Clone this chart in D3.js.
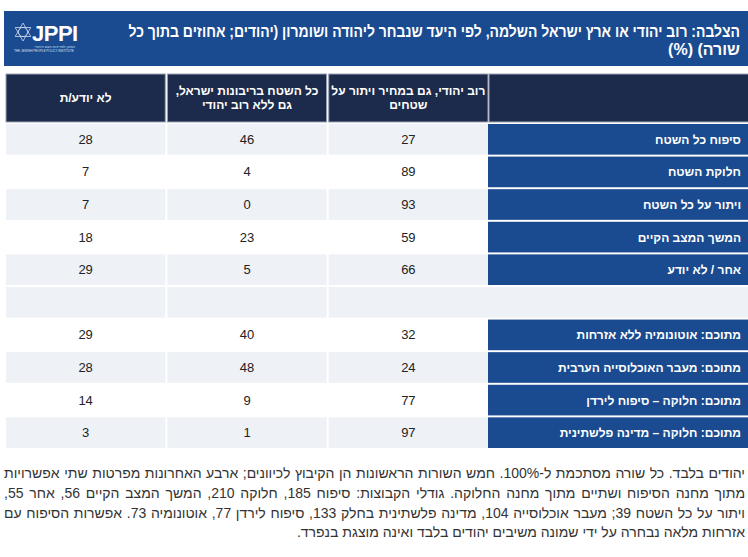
<!DOCTYPE html>
<html lang="he">
<head>
<meta charset="utf-8">
<script src="https://cdn.jsdelivr.net/npm/d3@7"></script>
<style>
  body { margin: 0; background: #fff; }
  text { font-family: "Liberation Sans", "DejaVu Sans", sans-serif; }
</style>
</head>
<body>
<div id="chart"></div>
<script>
// values
const title = ["הצלבה: רוב יהודי או ארץ ישראל השלמה, לפי היעד שנבחר ליהודה ושומרון (יהודים; אחוזים בתוך כל", "שורה) (%)"];
// columns run right to left, next to the row labels first
const columns = ["majority", "whole", "unknown"];
const columnHeads = [
  ["רוב יהודי, גם במחיר ויתור על", "שטחים"],
  ["כל השטח בריבונות ישראל,", "גם ללא רוב יהודי"],
  ["לא יודע/ת"]
];
const rowLabels = ["סיפוח כל השטח", "חלוקת השטח", "ויתור על כל השטח", "המשך המצב הקיים", "אחר / לא יודע", "",
  "מתוכם: אוטונומיה ללא אזרחות", "מתוכם: מעבר האוכלוסייה הערבית", "מתוכם: חלוקה – סיפוח לירדן", "מתוכם: חלוקה – מדינה פלשתינית"];
const majority = [27, 89, 93, 59, 66, null, 32, 24, 77, 97];
const whole    = [46, 4, 0, 23, 5, null, 40, 48, 9, 1];
const unknown  = [28, 7, 7, 18, 29, null, 29, 28, 14, 3];
const notes = [
  "יהודים בלבד. כל שורה מסתכמת ל-100%. חמש השורות הראשונות הן הקיבוץ לכיוונים; ארבע האחרונות מפרטות שתי אפשרויות",
  "מתוך מחנה הסיפוח ושתיים מתוך מחנה החלוקה. גודלי הקבוצות: סיפוח 185, חלוקה 210, המשך המצב הקיים 56, אחר 55,",
  "ויתור על כל השטח 39; מעבר אוכלוסייה 104, מדינה פלשתינית בחלק 133, סיפוח לירדן 77, אוטונומיה 73. אפשרות הסיפוח עם",
  "אזרחות מלאה נבחרה על ידי שמונה משיבים יהודים בלבד ואינה מוצגת בנפרד."
];

const W = 748, H = 557;
const blue = "#1a4a8f", navy = "#1c2a4b", grey = "#eef1f6";

const svg = d3.select("#chart").append("svg")
  .attr("width", W).attr("height", H);

// squeeze a line into maxW if it runs over (anchor on the right)
function fit(sel, maxW) {
  sel.each(function() {
    const w = this.getComputedTextLength();
    if (w > maxW) {
      const x = +this.getAttribute("x"), k = maxW / w;
      d3.select(this).attr("transform", `translate(${x * (1 - k)},0) scale(${k},1)`);
    }
  });
}

// banner
svg.append("rect").attr("x", 4).attr("y", 11).attr("width", W - 4).attr("height", 55).attr("fill", blue);

svg.selectAll(".title").data(title).join("text")
  .attr("class", "title")
  .attr("x", 740).attr("y", (d, i) => 37 + i * 17.5)
  .attr("direction", "rtl").attr("text-anchor", "start")
  .attr("fill", "#fff").attr("font-weight", "bold").attr("font-size", 16)
  .text(d => d)
  .call(fit, 612);

// logo
const logo = svg.append("g").attr("transform", "translate(23,32)");
const tri = r => d3.range(3).map(k => [r * Math.sin(k * 2 * Math.PI / 3), -r * Math.cos(k * 2 * Math.PI / 3)]);
logo.append("polygon").attr("points", tri(9).join(" "))
  .attr("fill", "none").attr("stroke", "#cfd8ea").attr("stroke-width", 0.8);
logo.append("polygon").attr("points", tri(9).map(p => [p[0], -p[1]]).join(" "))
  .attr("fill", "none").attr("stroke", "#cfd8ea").attr("stroke-width", 0.8);
logo.append("circle").attr("r", 4.5).attr("fill", "none").attr("stroke", "#cfd8ea").attr("stroke-width", 0.6);
svg.append("text").attr("x", 32).attr("y", 41)
  .attr("fill", "#fff").attr("font-weight", "bold").attr("font-size", 22).attr("letter-spacing", -0.5)
  .text("JPPI");
svg.append("text").attr("x", 75).attr("y", 48).attr("direction", "rtl").attr("text-anchor", "start")
  .attr("fill", "#d8e0ee").attr("font-size", 3.6).text("המכון למדיניות העם היהודי");
svg.append("text").attr("x", 14).attr("y", 52)
  .attr("fill", "#d8e0ee").attr("font-size", 3.2).text("THE JEWISH PEOPLE POLICY INSTITUTE")
  .attr("textLength", 60);

// table scales
const tableLeft = 6, labelLeft = 488;
const x = d3.scaleBand().domain(columns).range([labelLeft, tableLeft]).paddingInner(0.013);
const y = d3.scaleBand().domain(d3.range(rowLabels.length)).range([124, 448]).paddingInner(0.06);
const values = { majority, whole, unknown };
const shaded = i => (i < 5 ? i % 2 === 0 : i % 2 === 1);

// header row
const headTop = 74, headH = 48;
const heads = svg.append("g");
heads.selectAll("rect").data(columns).join("rect")
  .attr("x", d => x(d)).attr("y", headTop).attr("width", x.bandwidth()).attr("height", headH)
  .attr("fill", navy).attr("stroke", "#9aa3b5").attr("stroke-width", 1);
heads.append("rect").attr("x", labelLeft + 1).attr("y", headTop).attr("width", W - labelLeft + 4).attr("height", headH)
  .attr("fill", navy).attr("stroke", "#9aa3b5").attr("stroke-width", 1);
columns.forEach((c, j) => {
  const lines = columnHeads[j];
  heads.selectAll(null).data(lines).join("text")
    .attr("x", x(c) + x.bandwidth() / 2)
    .attr("y", (d, i) => headTop + headH / 2 + 4 + (i - (lines.length - 1) / 2) * 14)
    .attr("direction", "rtl").attr("text-anchor", "middle")
    .attr("fill", "#fff").attr("font-weight", "bold").attr("font-size", 12)
    .text(d => d);
});

// body rows
const rows = svg.selectAll(".row").data(rowLabels).join("g").attr("class", "row");
rows.each(function(label, i) {
  const g = d3.select(this);
  g.selectAll("rect").data(columns).join("rect")
    .attr("x", d => x(d)).attr("y", y(i)).attr("width", x.bandwidth()).attr("height", y.bandwidth())
    .attr("fill", shaded(i) ? grey : "#fff");
  g.append("rect").attr("x", labelLeft).attr("y", y(i)).attr("width", W - labelLeft).attr("height", y.bandwidth())
    .attr("fill", label ? blue : grey);
  g.selectAll("text.num").data(columns.filter(c => values[c][i] != null)).join("text")
    .attr("class", "num")
    .attr("x", d => x(d) + x.bandwidth() / 2).attr("y", y(i) + y.bandwidth() / 2 + 4.5)
    .attr("text-anchor", "middle").attr("fill", "#222").attr("font-size", 13)
    .text(d => values[d][i]);
  if (label) {
    g.append("text").attr("x", 741).attr("y", y(i) + y.bandwidth() / 2 + 4.5)
      .attr("direction", "rtl").attr("text-anchor", "start")
      .attr("fill", "#fff").attr("font-weight", "bold").attr("font-size", 12)
      .text(label);
  }
});

// footnote, justified like the source
const noteRight = 745, noteWidth = 741;
svg.selectAll(".note").data(notes).join("text")
  .attr("class", "note")
  .attr("x", noteRight).attr("y", (d, i) => 478 + i * 19.8)
  .attr("direction", "rtl").attr("text-anchor", "start")
  .attr("fill", "#333").attr("font-size", 14)
  .text(d => d)
  .each(function(d, i) {
    const w = this.getComputedTextLength();
    if (w > noteWidth) {
      d3.select(this).call(fit, noteWidth);
    } else if (i < notes.length - 1) {
      const gaps = d.split(" ").length - 1;
      d3.select(this).attr("word-spacing", (noteWidth - w) / gaps);
    }
  });
</script>
</body>
</html>
